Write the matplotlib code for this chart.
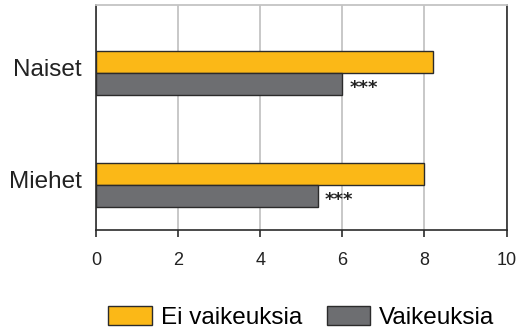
import matplotlib
matplotlib.use('Agg')
import matplotlib.pyplot as plt
import matplotlib.transforms as mtransforms
import numpy as np

plt.rcParams['font.family'] = ['Liberation Sans', 'DejaVu Sans']

groups = ['Miehet', 'Naiset']
no_difficulty = [7.98, 8.21]   # Ei vaikeuksia
difficulty = [5.40, 6.00]      # Vaikeuksia
marks = ['***', '***']
xticks = [0, 2, 4, 6, 8, 10]

yellow = '#FBB817'
gray = '#6D6E71'
edge = '#2b2b2b'

fig = plt.figure(figsize=(5.17, 3.29), dpi=100)
ax = fig.add_axes([0.1857, 0.3009, 0.794, 0.684])

y = np.arange(len(groups))
h = 0.2
ax.barh(y + h / 2, no_difficulty, height=h, color=yellow, edgecolor=edge,
        linewidth=1, label='Ei vaikeuksia', zorder=3)
ax.barh(y - h / 2, difficulty, height=h, color=gray, edgecolor=edge,
        linewidth=1, label='Vaikeuksia', zorder=3)

# significance stars after the grey bars
for yi, val, m in zip(y, difficulty, marks):
    ax.text(val + 0.17, yi - h / 2 - 0.035, m, fontsize=13, va='center',
            ha='left', color='#222222', zorder=4, family='DejaVu Sans',
            fontweight='bold')

ax.set_xlim(0, 10)
ax.set_ylim(-0.402, 1.607)
ax.set_xticks(xticks)
ax.set_xticklabels([str(t) for t in xticks], fontsize=13, color='#222222')
ax.set_yticks(y)
ax.set_yticklabels(groups, fontsize=17.5, color='#222222')
ax.tick_params(axis='y', length=0, pad=10)
ax.tick_params(axis='x', direction='out', length=5, width=1.2,
               color='#2b2b2b', pad=11)

# nudge the group labels up a little, as in the original
shift = mtransforms.ScaledTranslation(0, 5 / 100, fig.dpi_scale_trans)
for lbl in ax.get_yticklabels():
    lbl.set_transform(lbl.get_transform() + shift)

ax.grid(axis='x', color='#c4c4c4', linewidth=1.3, zorder=0)
ax.set_axisbelow(True)
for side in ['left', 'bottom', 'right']:
    ax.spines[side].set_color('#2b2b2b')
    ax.spines[side].set_linewidth(1.2)
ax.spines['top'].set_color('#c4c4c4')
ax.spines['top'].set_linewidth(1.3)

handles, labels = ax.get_legend_handles_labels()
fig.legend(handles, labels, loc='center', bbox_to_anchor=(0.583, 0.036),
           ncol=2, frameon=False, fontsize=17.5, handlelength=1.8,
           handleheight=0.87, handletextpad=0.37, columnspacing=1.0,
           borderaxespad=0, borderpad=0)

fig.savefig('out.png', dpi=100)
